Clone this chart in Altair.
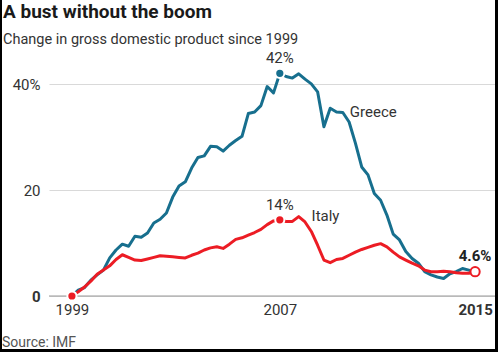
import altair as alt
import pandas as pd

# ---- data (quarterly, 1999 Q1 .. 2015 Q1), % change in GDP since 1999 ----
quarters = [1999 + i / 4 for i in range(65)]
greece = [0, 1.1, 1.6, 3.0, 4.0, 4.9, 7.2, 8.7, 9.8, 9.4,
          11.3, 11.1, 11.9, 13.8, 14.5, 15.7, 18.7, 20.8, 21.6, 24.2,
          26.2, 26.5, 28.3, 28.2, 27.4, 28.5, 29.4, 30.2, 34.5, 34.8,
          36.0, 39.6, 38.4, 42.1, 41.5, 41.2, 42.0, 41.0, 40.1, 38.6,
          32.0, 35.5, 34.8, 34.7, 32.9, 28.9, 24.4, 22.9, 19.4, 18.1,
          15.3, 11.7, 10.6, 8.4, 7.1, 6.2, 4.6, 4.0, 3.6, 3.3,
          4.2, 4.6, 5.2, 4.9, 4.5]
italy = [0, 0.8, 1.7, 2.8, 4.1, 4.9, 5.7, 6.9, 7.8, 7.3,
         6.8, 6.7, 7.0, 7.3, 7.6, 7.5, 7.4, 7.3, 7.2, 7.7,
         8.1, 8.7, 9.1, 9.3, 9.0, 9.8, 10.7, 11.0, 11.5, 12.0,
         12.6, 13.5, 14.2, 14.4, 14.1, 14.1, 15.0, 14.0, 12.2, 9.6,
         6.8, 6.3, 6.9, 7.1, 7.7, 8.3, 8.8, 9.2, 9.6, 9.9,
         9.3, 8.3, 7.4, 6.8, 6.2, 5.7, 4.9, 4.6, 4.6, 4.7,
         4.6, 4.4, 4.3, 4.3, 4.6]
countries = ["Greece", "Italy"]
colors = ["#176f8e", "#ec1c24"]

x_ticks = [1999, 2007.25, 2015]
y_ticks = [0, 20, 40]

# highlighted points
dot_country = ["Italy", "Greece", "Italy"]
dot_year = [1999, 2007.25, 2007.25]
dot_value = [0, 42.1, 14.4]
end_year = [2015]
end_value = [4.6]

# value annotations above points
ann_text = ["42%", "14%"]
ann_year = [2007.25, 2007.25]
ann_value = [42.1, 14.4]
end_text = ["4.6%"]

# series name labels
name_text = ["Greece", "Italy"]
name_year = [2010.03, 2008.51]
name_value = [33.8, 14.2]

title_text = "A bust without the boom"
subtitle_text = "Change in gross domestic product since 1999"
source_text = "Source: IMF"

FONT = "Roboto"

df = pd.DataFrame({
    "year": quarters * 2,
    "value": greece + italy,
    "country": ["Greece"] * len(greece) + ["Italy"] * len(italy),
})

x_scale = alt.Scale(domain=[1998.09, 2015.79], nice=False, zero=False)
y_scale = alt.Scale(domain=[0, 45], nice=False)

x_axis = alt.Axis(
    values=x_ticks, labelExpr="'' + floor(datum.value)", title=None,
    domain=False, ticks=False, tickSize=0, grid=False, labelPadding=6,
    labelFontSize=15, labelColor="#333", labelFont=FONT,
    labelFontWeight={"condition": {"test": "datum.value == 2015", "value": "bold"}, "value": "normal"},
)
y_axis = alt.Axis(
    values=y_ticks, labelExpr="datum.value == 40 ? '40%' : datum.label", title=None,
    domain=False, ticks=False, tickSize=0, grid=True, gridColor="#d9d9d9", gridWidth=1,
    labelPadding=9, labelFontSize=15, labelColor="#333", labelFont=FONT,
    labelFontWeight={"condition": {"test": "datum.value == 0", "value": "bold"}, "value": "normal"},
)

X = alt.X("year:Q", scale=x_scale, axis=x_axis)
Y = alt.Y("value:Q", scale=y_scale, axis=y_axis)
color = alt.Color("country:N", scale=alt.Scale(domain=countries, range=colors), legend=None)

base = alt.Chart(df)

zero = alt.Chart(pd.DataFrame({"year": [1999], "value": [0]})).mark_rule(
    color="#999", strokeWidth=1).encode(y=Y)

lines = base.mark_line(strokeWidth=3, strokeJoin="round").encode(x=X, y=Y, color=color)

dots = alt.Chart(pd.DataFrame({"year": dot_year, "value": dot_value, "country": dot_country})).mark_point(
    filled=True, size=85, opacity=1, stroke="white", strokeWidth=2).encode(
    x=X, y=Y, fill=alt.Fill("country:N", scale=alt.Scale(domain=countries, range=colors), legend=None))

end_dot = alt.Chart(pd.DataFrame({"year": end_year, "value": end_value})).mark_point(
    filled=True, size=85, opacity=1, fill="white", stroke=colors[1], strokeWidth=2).encode(x=X, y=Y)

ann = alt.Chart(pd.DataFrame({"year": ann_year, "value": ann_value, "t": ann_text})).mark_text(
    font=FONT, fontSize=15, color="#333", align="center", baseline="alphabetic", dy=-10).encode(
    x=X, y=Y, text="t:N")

end_ann = alt.Chart(pd.DataFrame({"year": end_year, "value": end_value, "t": end_text})).mark_text(
    font=FONT, fontSize=15, fontWeight="bold", color="#222", align="center", baseline="alphabetic", dy=-11).encode(
    x=X, y=Y, text="t:N")

names = alt.Chart(pd.DataFrame({"year": name_year, "value": name_value, "t": name_text})).mark_text(
    font=FONT, fontSize=15, color="#333", align="left", baseline="alphabetic").encode(
    x=X, y=Y, text="t:N")

one = pd.DataFrame({"t": [title_text]})
title = alt.Chart(pd.DataFrame({"t": [title_text]})).mark_text(
    font=FONT, fontSize=19, fontWeight="bold", color="#1a1a1a", align="left", baseline="alphabetic").encode(
    x=alt.value(-46), y=alt.value(-40), text="t:N")
subtitle = alt.Chart(pd.DataFrame({"t": [subtitle_text]})).mark_text(
    font=FONT, fontSize=14.5, color="#333", align="left", baseline="alphabetic").encode(
    x=alt.value(-46), y=alt.value(-14.5), text="t:N")
source = alt.Chart(pd.DataFrame({"t": [source_text]})).mark_text(
    font=FONT, fontSize=14, color="#555", align="left", baseline="alphabetic").encode(
    x=alt.value(-47), y=alt.value(289), text="t:N")

border_left = alt.Chart(one).mark_rule(color="black", strokeWidth=2).encode(
    x=alt.value(-48), y=alt.value(-58), y2=alt.value(294))
border_right = alt.Chart(one).mark_rule(color="black", strokeWidth=3).encode(
    x=alt.value(447.5), y=alt.value(-58), y2=alt.value(294))
border_bottom = alt.Chart(one).mark_rule(color="black", strokeWidth=3).encode(
    x=alt.value(-49), x2=alt.value(449), y=alt.value(292.5))

chart = alt.layer(
    zero, lines, dots, end_dot, ann, end_ann, names, title, subtitle, source,
    border_left, border_right, border_bottom,
).properties(
    width=446, height=238,
    padding={"left": 49, "top": 58, "right": 5, "bottom": 56},
    autosize=alt.AutoSizeParams(type="none"),
    background="white",
).configure_view(stroke=None)

chart.save("out.html", embed_options={"renderer": "svg", "actions": False})
